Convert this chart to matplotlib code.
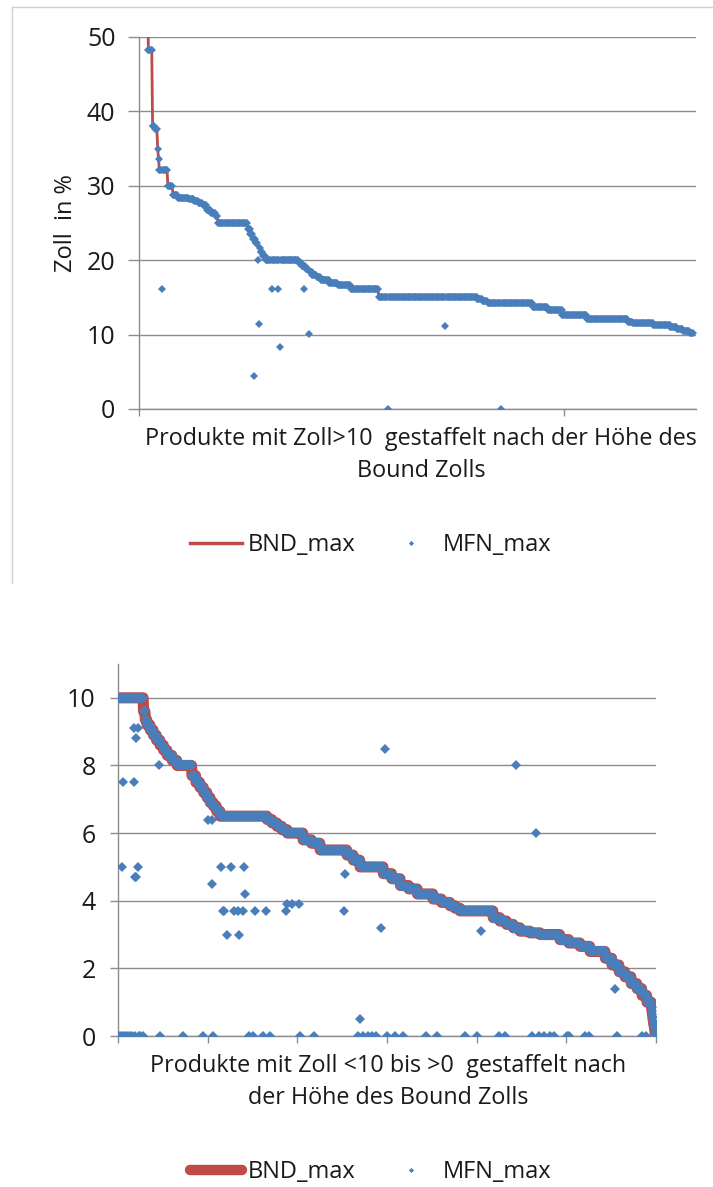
import numpy as np
import matplotlib.pyplot as plt
from matplotlib.lines import Line2D

plt.rcParams['font.family'] = ['Open Sans', 'DejaVu Sans']

RED = '#be4b48'
BLUE = '#4a7ebb'
GRID = '#8c8c8c'
TXT = '#1a1a1a'

# --- upper chart: products with tariff > 10 %, sorted by bound tariff ---
# bound tariff as (level, number of products) runs
top_levels = [60.0, 48.2, 38.0, 37.6, 35.0, 33.6, 32.1, 30.0, 28.7, 28.4,
              28.2, 28.0, 27.7, 27.4, 26.8, 26.4, 26.0, 25.0,
              24.2, 23.5, 22.8, 22.3, 21.7, 21.1, 20.5, 20.0,
              19.6, 19.2, 18.8, 18.4, 18.0, 17.7, 17.4, 17.0, 16.7, 16.1,
              15.0, 14.8, 14.5, 14.3, 14.2, 13.7, 13.3, 12.6, 12.1, 11.7,
              11.5, 11.3, 11.0, 10.8, 10.5, 10.2]
top_counts = [11, 5, 3, 3, 1, 1, 10, 6, 6, 13,
              6, 5, 5, 5, 5, 5, 3, 35,
              3, 3, 3, 3, 3, 3, 3, 39,
              4, 4, 4, 4, 5, 5, 10, 10, 15, 33,
              116, 6, 6, 6, 47, 18, 17, 29, 48, 6,
              24, 20, 8, 7, 8, 4]
# applied MFN tariff where it differs from the bound rate
top_mfn_idx = [27, 135, 140, 141, 156, 164, 166, 194, 200, 293, 360, 426]
top_mfn_val = [16.1, 4.5, 20.0, 11.4, 16.1, 16.1, 8.3, 16.1, 10.1, 0.0, 11.2, 0.0]

# --- lower chart: products with tariff between 0 and 10 % ---
bot_levels = [10.0, 9.6, 9.35, 9.2, 9.05, 8.9, 8.75, 8.6, 8.45, 8.3, 8.15, 8.0,
              7.7, 7.5, 7.35, 7.2, 7.05, 6.9, 6.8, 6.65, 6.5,
              6.4, 6.3, 6.2, 6.1, 6.0, 5.8, 5.7, 5.5, 5.35, 5.2, 5.0,
              4.8, 4.65, 4.45, 4.35, 4.2, 4.05, 3.95, 3.85, 3.78, 3.7,
              3.5, 3.4, 3.3, 3.2, 3.1, 3.05, 3.0, 2.85, 2.75, 2.65, 2.5,
              2.3, 2.1, 1.9, 1.75, 1.55, 1.4, 1.2, 1.0,
              0.85, 0.75, 0.65, 0.55, 0.45, 0.35, 0.3, 0.2, 0.1, 0.05]
bot_counts = [57, 4, 4, 7, 7, 7, 8, 8, 8, 11, 11, 33,
              9, 9, 8, 8, 7, 7, 7, 8, 105,
              11, 11, 11, 12, 35, 19, 19, 60, 14, 15, 52,
              19, 19, 19, 19, 35, 19, 19, 11, 11, 74,
              15, 15, 15, 15, 22, 23, 44, 20, 25, 22, 34,
              15, 16, 13, 14, 13, 11, 11, 10,
              1, 1, 1, 1, 1, 1, 1, 1, 1, 1]
bot_mfn_idx = [9, 11, 31, 35, 36, 39, 40, 41, 44, 45, 91, 201, 209, 210,
               230, 234, 236, 243, 252, 259, 268, 270, 279, 282, 284,
               306, 323, 330, 339, 375, 377, 388, 404, 505, 507, 540,
               587, 596, 810, 888, 932, 1109]
bot_mfn_val = [5.0, 7.5, 8.0, 7.5, 9.1, 4.7, 8.8, 4.7, 9.1, 5.0, 8.0, 6.4, 6.4, 4.5,
               5.0, 3.7, 3.7, 3.0, 5.0, 3.7, 3.7, 3.0, 3.7, 5.0, 4.2,
               3.7, 3.7, 3.7, 3.7, 3.7, 3.9, 3.9, 3.9, 3.7, 4.8, 0.5,
               3.2, 8.5, 3.1, 8.0, 6.0, 1.4]
bot_zero_idx = [0, 4, 8, 13, 18, 22, 27, 31, 38, 46, 50, 55, 94, 145, 190, 212,
                292, 301, 323, 339, 406, 437, 535, 547, 558, 567, 576,
                600, 618, 636, 687, 712, 774, 801, 850, 863, 923, 939, 950,
                964, 973, 1002, 1006, 1042, 1051, 1113, 1169, 1178]

top_bnd = np.repeat(top_levels, top_counts)
top_mfn = top_bnd.copy()
top_mfn[top_mfn_idx] = top_mfn_val

bot_bnd = np.repeat(bot_levels, bot_counts)
bot_mfn = bot_bnd.copy()
bot_mfn[bot_mfn_idx] = bot_mfn_val
bot_mfn[bot_zero_idx] = 0.0

W, H = 713, 1187
fig = plt.figure(figsize=(W / 100, H / 100), dpi=100)


def box(l, t, r, b):
    return [l / W, 1 - b / H, (r - l) / W, (b - t) / H]


def style(ax, ylen, pad):
    ax.grid(axis='y', color=GRID, lw=1.0)
    ax.set_axisbelow(True)
    for s in ('top', 'right'):
        ax.spines[s].set_visible(False)
    for s in ('left', 'bottom'):
        ax.spines[s].set_color(GRID)
        ax.spines[s].set_linewidth(1.0)
    ax.tick_params(axis='y', length=ylen, color=GRID, width=1.0, pad=pad,
                   labelsize=18, labelcolor=TXT)
    ax.tick_params(axis='x', length=5, color=GRID, width=1.0, labelbottom=False)


def legend(ax, handles, ypix):
    ax.legend(handles, ['BND_max', 'MFN_max'], loc='center', ncol=2,
              bbox_to_anchor=(371 / W, 1 - ypix / H), bbox_transform=fig.transFigure,
              frameon=False, fontsize=17, handlelength=2.2, handletextpad=0.25,
              columnspacing=1.25, numpoints=1, labelcolor=TXT)


# upper chart
ax1 = fig.add_axes(box(139, 37, 696, 409))
x1 = np.arange(len(top_bnd))
ax1.plot(x1, top_bnd, color=RED, lw=2.0, zorder=2, label='BND_max')
ax1.plot(x1, top_mfn, ls='none', marker='D', ms=3.8, mew=0, color=BLUE,
         zorder=3, label='MFN_max')
ax1.set_xlim(0, 655)
ax1.set_ylim(0, 50)
ax1.set_yticks(range(0, 51, 10))
ax1.set_xticks([0, 500])
style(ax1, 8, 9)
ax1.set_ylabel('Zoll  in %', fontsize=17, color=TXT, labelpad=6)
fig.text(421 / W, 1 - 427 / H,
         'Produkte mit Zoll>10  gestaffelt nach der Höhe des\nBound Zolls',
         ha='center', va='top', fontsize=16.8, color=TXT, linespacing=1.45)
legend(ax1, [Line2D([], [], color=RED, lw=2.5),
             Line2D([], [], ls='none', marker='D', ms=2.6, mew=0, color=BLUE)], 545)

# frame around the upper chart
fig.add_artist(Line2D([12 / W, 12 / W], [1 - 7 / H, 1 - 583 / H],
                      color='#cfcfcf', lw=1.0, transform=fig.transFigure))
fig.add_artist(Line2D([12 / W, 1.0], [1 - 7 / H, 1 - 7 / H],
                      color='#cfcfcf', lw=1.0, transform=fig.transFigure))

# lower chart
ax2 = fig.add_axes(box(118, 664, 656, 1036))
x2 = np.arange(len(bot_bnd))
ax2.plot(x2, bot_bnd, color=RED, lw=8.0, zorder=2, solid_joinstyle='round',
         label='BND_max')
ax2.plot(x2, bot_mfn, ls='none', marker='D', ms=4.6, mew=0, color=BLUE,
         zorder=3, label='MFN_max')
ax2.set_xlim(0, 1200)
ax2.set_ylim(0, 11)
ax2.set_yticks(range(0, 11, 2))
ax2.set_xticks(range(0, 1201, 200))
style(ax2, 6, 10)
fig.text(388 / W, 1 - 1054 / H,
         'Produkte mit Zoll <10 bis >0  gestaffelt nach\nder Höhe des Bound Zolls',
         ha='center', va='top', fontsize=16.8, color=TXT, linespacing=1.45)
legend(ax2, [Line2D([], [], color=RED, lw=7.5, solid_capstyle='round'),
             Line2D([], [], ls='none', marker='D', ms=2.6, mew=0, color=BLUE)], 1172)

fig.savefig('out.png', dpi=100)
